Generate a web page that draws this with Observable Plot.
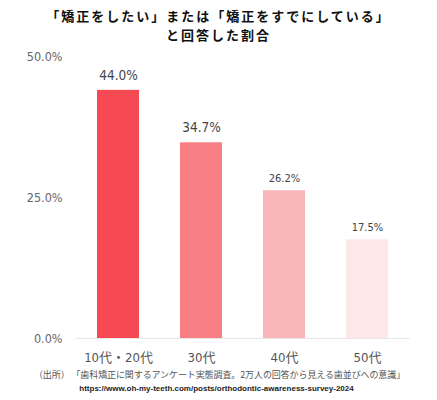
<!DOCTYPE html>
<html>
<head>
<meta charset="utf-8">
<script src="https://cdn.jsdelivr.net/npm/d3@7"></script>
<script src="https://cdn.jsdelivr.net/npm/@observablehq/plot@0.6"></script>
<style>
  body { margin: 0; background: #fff; width: 437px; font-family: "DejaVu Sans Condensed", "Liberation Sans", "Noto Sans CJK JP", sans-serif; }
  #title { height: 44px; box-sizing: border-box; padding-top: 6px; text-align: center; font: bold 13px/19px "Noto Sans CJK JP", sans-serif; letter-spacing: 2px; color: #111; }
  #chart svg { display: block; }
  #src { text-align: center; font: 9px/12px "Noto Sans CJK JP", sans-serif; color: #555; margin-left: 2px; letter-spacing: -0.1px; }
  #url { text-align: center; font: 600 8px/15px "Liberation Sans", sans-serif; color: #222; margin-left: -4px; }
</style>
</head>
<body>
<div id="title">「矯正をしたい」または「矯正をすでにしている」<br>と回答した割合</div>
<div id="chart"></div>
<div id="src">（出所）&nbsp;「歯科矯正に関するアンケート実態調査。2万人の回答から見える歯並びへの意識」</div>
<div id="url">https://www.oh-my-teeth.com/posts/orthodontic-awareness-survey-2024</div>
<script>
const categories = ["10代・20代", "30代", "40代", "50代"];
const values = [44.0, 34.7, 26.2, 17.5];
const yTicks = [0, 25, 50];

const data = categories.map((c, i) => ({category: c, value: values[i]}));

const chart = Plot.plot({
  width: 437,
  height: 325,
  marginTop: 12,
  marginBottom: 31,
  marginLeft: 75,
  marginRight: 27,
  style: {background: "#fff", fontSize: "13px", fontFamily: "\"DejaVu Sans Condensed\", \"Liberation Sans\", \"Noto Sans CJK JP\", sans-serif"},
  x: {domain: categories, paddingInner: 0.5, paddingOuter: 0.25, label: null},
  y: {domain: [0, 50], label: null},
  color: {domain: categories, range: ["#f54a53", "#f77e82", "#f9b5b8", "#fde7e8"]},
  marks: [
    Plot.ruleY([0], {stroke: "#e8e8e8"}),
    Plot.barY(data, {x: "category", y: "value", fill: "category"}),
    Plot.text(data.filter(d => d.value >= 30), {x: "category", y: "value", text: d => d.value.toFixed(1) + "%", dy: -15, fontSize: 13.5, fill: "#444"}),
    Plot.text(data.filter(d => d.value < 30), {x: "category", y: "value", text: d => d.value.toFixed(1) + "%", dy: -12, fontSize: 11, fill: "#444"}),
    Plot.axisY({ticks: yTicks, tickFormat: d => d.toFixed(1) + "%", tickSize: 0, tickPadding: 13, fontSize: 12.5, color: "#666", label: null}),
    Plot.axisX({tickSize: 0, tickPadding: 14, fontSize: 13, color: "#555", label: null})
  ]
});
document.getElementById("chart").appendChild(chart);
</script>
</body>
</html>
